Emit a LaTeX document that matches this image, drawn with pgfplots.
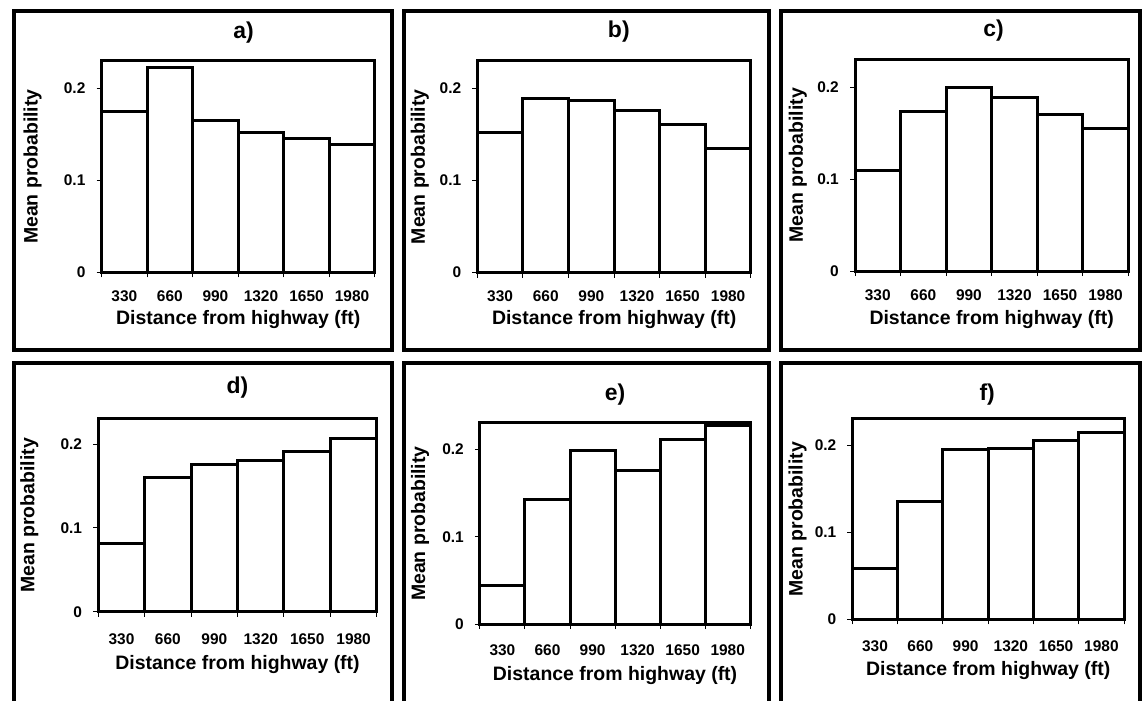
\documentclass[border=0pt]{standalone}
\usepackage{pgfplots}
\pgfplotsset{compat=1.18}
\usepackage{fontspec}
\setmainfont{Liberation Sans}
\begin{document}
\pgfplotsset{
  panel/.style={
    scale only axis,
    anchor=south west,
    clip=false,
    ybar, bar width=1, bar shift=0,
    xmin=0.5, xmax=6.5, ymin=0, ymax=0.23,
    xtick={1,...,6}, xticklabels={330,660,990,1320,1650,1980},
    minor xtick={0.5,1.5,...,6.5},
    ytick={0,0.1,0.2}, yticklabels={0,0.1,0.2},
    tick pos=left, tick align=outside,
    major tick length=5pt, minor tick length=5pt,
    major x tick style={draw=none},
    minor x tick style={line width=1pt, black},
    major y tick style={line width=1pt, black},
    axis line style={line width=3pt},
    yticklabel style={anchor=east, inner sep=0pt, xshift=-11pt, font=\fontsize{15.5}{15.5}\selectfont\bfseries},
    title style={font=\fontsize{23}{23}\selectfont\bfseries, anchor=center},
    xlabel={Distance from highway (ft)},
    ylabel={Mean probability},
    xlabel style={font=\fontsize{19.5}{19.5}\selectfont\bfseries, at={(axis description cs:0.5,0)}, anchor=center},
    ylabel style={font=\fontsize{19.5}{19.5}\selectfont\bfseries, anchor=center},
  },
  bars/.style={fill=white, draw=black, line width=3pt},
}
\begin{tikzpicture}
\useasboundingbox (0pt,0pt) rectangle (1143pt,-702pt);
\fill[white] (0pt,0pt) rectangle (1143pt,-702pt);
% outer frames
\draw[line width=4pt] (11pt,-11pt) rectangle (390pt,-351pt);
\draw[line width=4pt] (402pt,-11pt) rectangle (768pt,-351pt);
\draw[line width=4pt] (780.5pt,-11pt) rectangle (1139.5pt,-351pt);
\draw[line width=4pt] (11pt,-710pt) -- (11pt,-364pt) -- (390pt,-364pt) -- (390pt,-710pt);
\draw[line width=4pt] (402pt,-710pt) -- (402pt,-364pt) -- (768pt,-364pt) -- (768pt,-710pt);
\draw[line width=4pt] (780.5pt,-710pt) -- (780.5pt,-364pt) -- (1139.5pt,-364pt) -- (1139.5pt,-710pt);

% a)
\begin{axis}[panel, at={(99pt,-273pt)}, width=274pt, height=212pt,
  title={a)}, title style={at={(axis description cs:0.5,1)}, yshift=22pt, xshift=5.5pt},
  xlabel style={yshift=-47pt},
  ylabel style={at={(axis description cs:-0.2518,0.5)}},
  xticklabel style={anchor=center, yshift=-18.7pt, font=\fontsize{15.5}{15.5}\selectfont\bfseries}]
\addplot[bars] coordinates {(1,0.175) (2,0.223) (3,0.165) (4,0.1525) (5,0.146) (6,0.139)};
\end{axis}

% b)
\begin{axis}[panel, at={(475.7pt,-273.3pt)}, width=274.3pt, height=212.3pt,
  title={b)}, title style={at={(axis description cs:0.5,1)}, yshift=23pt, xshift=4.7pt},
  xlabel style={yshift=-46.7pt},
  ylabel style={at={(axis description cs:-0.2104,0.5)}},
  xticklabel style={anchor=center, yshift=-18.7pt, font=\fontsize{15.5}{15.5}\selectfont\bfseries}]
\addplot[bars] coordinates {(1,0.152) (2,0.189) (3,0.187) (4,0.176) (5,0.161) (6,0.135)};
\end{axis}

% c)
\begin{axis}[panel, at={(854.3pt,-271.7pt)}, width=274pt, height=211.7pt,
  title={c)}, title style={at={(axis description cs:0.5,1)}, yshift=23pt, xshift=2pt},
  xlabel style={yshift=-49pt},
  ylabel style={at={(axis description cs:-0.2091,0.5)}},
  xticklabel style={anchor=center, yshift=-19.3pt, font=\fontsize{15.5}{15.5}\selectfont\bfseries}]
\addplot[bars] coordinates {(1,0.110) (2,0.174) (3,0.200) (4,0.189) (5,0.171) (6,0.155)};
\end{axis}

% d)
\begin{axis}[panel, at={(95.7pt,-613.3pt)}, width=279.3pt, height=193.3pt,
  title={d)}, title style={at={(axis description cs:0.5,1)}, yshift=25.7pt},
  xlabel style={yshift=-53.3pt},
  ylabel style={at={(axis description cs:-0.2471,0.5)}},
  xticklabel style={anchor=center, yshift=-22pt, font=\fontsize{15.5}{15.5}\selectfont\bfseries}]
\addplot[bars] coordinates {(1,0.082) (2,0.160) (3,0.176) (4,0.181) (5,0.191) (6,0.207)};
\end{axis}

% e)
\begin{axis}[panel, at={(478.3pt,-625.7pt)}, width=271pt, height=201.7pt,
  title={e)}, title style={at={(axis description cs:0.5,1)}, yshift=22.2pt},
  xlabel style={yshift=-51.8pt},
  ylabel style={at={(axis description cs:-0.2214,0.5)}},
  xticklabel style={anchor=center, yshift=-20.8pt, font=\fontsize{15.5}{15.5}\selectfont\bfseries}]
\addplot[bars] coordinates {(1,0.044) (2,0.142) (3,0.198) (4,0.176) (5,0.211) (6,0.227)};
\end{axis}

% f)
\begin{axis}[panel, at={(851.7pt,-621pt)}, width=272.3pt, height=201pt,
  title={f)}, title style={at={(axis description cs:0.5,1)}, yshift=18.2pt, xshift=-1pt},
  xlabel style={yshift=-51.5pt},
  ylabel style={at={(axis description cs:-0.2020,0.5)}},
  xticklabel style={anchor=center, yshift=-21.5pt, font=\fontsize{15.5}{15.5}\selectfont\bfseries}]
\addplot[bars] coordinates {(1,0.058) (2,0.135) (3,0.195) (4,0.196) (5,0.205) (6,0.214)};
\end{axis}
\end{tikzpicture}
\end{document}
